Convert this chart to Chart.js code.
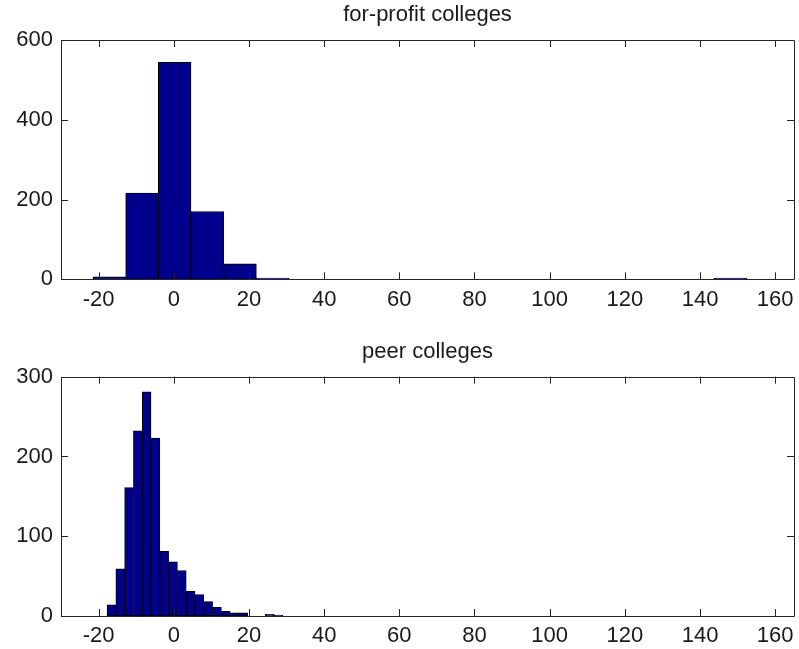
<!DOCTYPE html>
<html>
<head>
<meta charset="utf-8">
<script src="https://cdn.jsdelivr.net/npm/chart.js@4/dist/chart.umd.min.js"></script>
<style>
  body { margin: 0; background: #fff; }
  canvas { display: block; }
</style>
</head>
<body>
<canvas id="forProfit" width="799" height="325"></canvas>
<canvas id="peer" width="799" height="324"></canvas>
<script>
// histogram bin centres and counts
const forProfitCenters = [-17.15, -8.45, 0.24, 8.94, 17.63, 26.33, 35.02, 43.72, 52.41, 61.11,
    69.80, 78.50, 87.19, 95.89, 104.58, 113.28, 121.97, 130.67, 139.36, 148.06]
const forProfitCounts = [6, 216, 544, 170, 39, 3, 0, 0, 0, 0,
    0, 0, 0, 0, 0, 0, 0, 0, 0, 3]

const peerCenters = [-16.58, -14.24, -11.90, -9.56, -7.22, -4.88, -2.54, -0.20, 2.14, 4.48,
    6.82, 9.16, 11.50, 13.84, 16.18, 18.52, 20.86, 23.20, 25.54, 27.88]
const peerCounts = [14, 59, 161, 232, 281, 223, 81, 68, 57, 31,
    27, 18, 11, 6, 4, 4, 0, 0, 2, 1]

const xTicks = [-20, 0, 20, 40, 60, 80, 100, 120, 140, 160]
const forProfitYTicks = [0, 200, 400, 600]
const peerYTicks = [0, 100, 200, 300]

const axisColor = '#262626'
const textColor = '#1a1a1a'
const fontFamily = "'Liberation Sans', Arial, sans-serif"
const tickLen = 7

// matlab style box with ticks pointing inwards, plus the title centred over the box
const boxPlugin = {
    id: 'box',
    afterDatasetsDraw(chart, args, opts) {
        const ctx = chart.ctx
        const a = chart.chartArea
        const x = chart.scales.x
        const y = chart.scales.y
        ctx.save()
        ctx.strokeStyle = axisColor
        ctx.lineWidth = 1
        ctx.beginPath()
        ctx.rect(Math.round(a.left) + 0.5, Math.round(a.top) + 0.5,
            Math.round(a.right - a.left), Math.round(a.bottom - a.top))
        x.ticks.forEach(t => {
            const px = Math.round(x.getPixelForValue(t.value)) + 0.5
            ctx.moveTo(px, a.bottom)
            ctx.lineTo(px, a.bottom - tickLen)
            ctx.moveTo(px, a.top)
            ctx.lineTo(px, a.top + tickLen)
        })
        y.ticks.forEach(t => {
            const py = Math.round(y.getPixelForValue(t.value)) + 0.5
            ctx.moveTo(a.left, py)
            ctx.lineTo(a.left + tickLen, py)
            ctx.moveTo(a.right, py)
            ctx.lineTo(a.right - tickLen, py)
        })
        ctx.stroke()

        ctx.fillStyle = textColor
        ctx.font = '22px ' + fontFamily
        ctx.textAlign = 'center'
        ctx.textBaseline = 'middle'
        ctx.fillText(opts.text, (a.left + a.right) / 2, a.top - 25)
        ctx.restore()
    }
}

function makeHist(id, title, centers, counts, yTicks, topSpace, bottomSpace) {
    const font = { family: fontFamily, size: 22 }
    new Chart(document.getElementById(id), {
        type: 'bar',
        data: {
            datasets: [{
                data: centers.map((c, i) => ({ x: c, y: counts[i] })),
                backgroundColor: '#00008c',
                borderColor: '#000000',
                borderWidth: 1,
                borderSkipped: false,
                barPercentage: 1,
                categoryPercentage: 1,
            }]
        },
        options: {
            responsive: false,
            devicePixelRatio: 1,
            animation: false,
            layout: { padding: { left: 0, right: 5, top: topSpace, bottom: 0 } },
            plugins: {
                legend: { display: false },
                tooltip: { enabled: false },
                title: { display: false },
                box: { text: title },
            },
            scales: {
                x: {
                    type: 'linear',
                    min: -30,
                    max: 165,
                    offset: false,
                    grid: { display: false, drawTicks: false, offset: false },
                    border: { display: false },
                    afterBuildTicks: s => { s.ticks = xTicks.map(v => ({ value: v })) },
                    afterFit: s => {
                        s.height = bottomSpace
                        s.paddingLeft = 0
                        s.paddingRight = 0
                    },
                    ticks: { color: textColor, font, padding: 7, autoSkip: false, maxRotation: 0 },
                },
                y: {
                    min: yTicks[0],
                    max: yTicks[yTicks.length - 1],
                    grid: { display: false, drawTicks: false },
                    border: { display: false },
                    afterBuildTicks: s => { s.ticks = yTicks.map(v => ({ value: v })) },
                    afterFit: s => {
                        s.width = 61
                        s.paddingTop = 0
                        s.paddingBottom = 0
                    },
                    ticks: { color: textColor, font, padding: 8 },
                },
            },
        },
        plugins: [boxPlugin],
    })
}

function main() {
    makeHist('forProfit', 'for-profit colleges', forProfitCenters, forProfitCounts, forProfitYTicks, 40, 45.7)
    makeHist('peer', 'peer colleges', peerCenters, peerCounts, peerYTicks, 51.7, 33)
}

document.addEventListener('DOMContentLoaded', main)
</script>
</body>
</html>
